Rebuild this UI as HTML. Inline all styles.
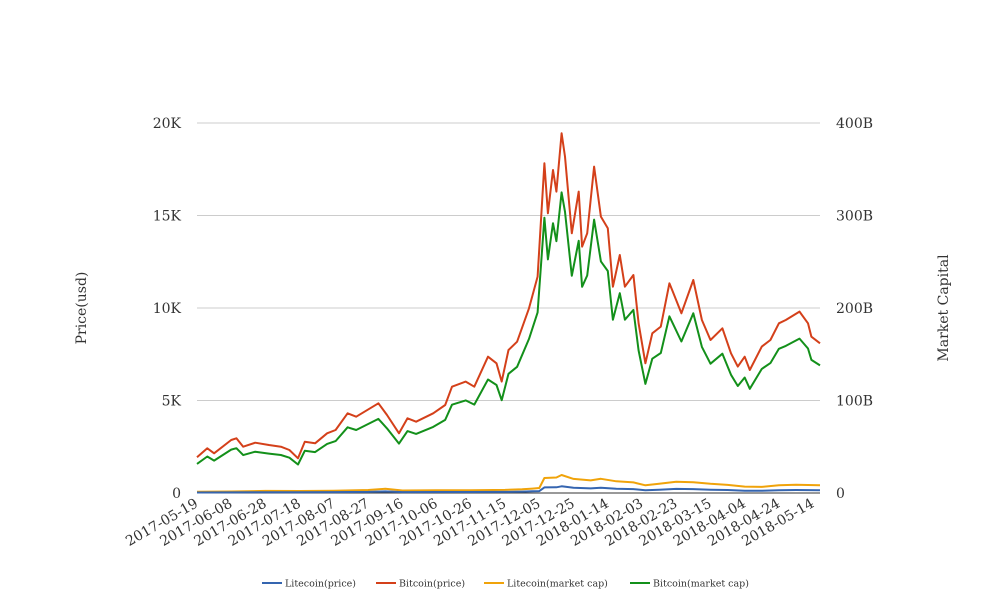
<!DOCTYPE html>
<html><head><meta charset="utf-8">
<style>
html,body{margin:0;padding:0;background:#fff;}
svg{display:block;font-family:"DejaVu Serif","Liberation Serif",serif;}
</style></head>
<body>
<svg id="chart" width="1008" height="616" viewBox="0 0 1008 616">
<g id="grid"></g>
<g id="yleft"></g>
<g id="yright"></g>
<g id="xaxis"></g>
<g id="series"></g>
<text x="86" y="308" transform="rotate(-90 86 308)" text-anchor="middle" font-size="14" fill="#333">Price(usd)</text>
<text x="948" y="308" transform="rotate(-90 948 308)" text-anchor="middle" font-size="14" fill="#333">Market Capital</text>
<g id="legend"></g>
</svg>
<script>
const btcDays=[0,6,10,20,23,27,34,42,49,54,59,63,69,76,81,88,93,106,111,118,123,128,138,145,149,157,162,170,175,178,182,187,194,199,203,205,208,210,213,215,219,223,225,228,232,236,240,243,247,250,255,258,262,266,271,276,278,283,290,295,300,307,312,316,320,323,330,335,340,344,352,357,359,364];
const btcPrice=[1928,2415,2144,2865,2955,2505,2721,2595,2505,2325,1874,2775,2685,3226,3406,4307,4127,4847,4217,3226,4036,3856,4307,4757,5748,6019,5748,7370,7010,6019,7731,8181,9983,11695,17822,15119,17461,16290,19444,18182,14038,16290,13317,14038,17642,14938,14308,11154,12866,11154,11785,9172,7010,8632,8992,11334,10884,9713,11514,9352,8271,8902,7550,6830,7370,6649,7911,8271,9172,9352,9803,9172,8451,8091];
const btcCap=[31.5,39.5,35.0,46.9,48.4,41.0,44.6,42.6,41.1,38.2,30.8,45.6,44.2,53.1,56.1,71.0,68.1,80.1,69.8,53.4,66.9,63.9,71.5,79.0,95.5,100.1,95.6,122.7,116.8,100.3,128.9,136.4,166.6,195.2,297.6,252.5,291.7,272.2,325.0,304.0,234.8,272.6,222.9,235.1,295.6,250.4,240.0,187.2,216.0,187.3,198.0,154.1,117.9,145.2,151.4,191.0,183.4,163.8,194.3,157.9,139.8,150.6,127.8,115.7,124.9,112.7,134.2,140.4,155.9,159.0,166.9,156.2,143.9,137.9];
const ltcDays=[0,20,40,60,80,100,110,120,140,160,180,190,196,200,203,210,213,220,230,236,245,255,262,270,280,290,300,310,320,330,340,350,364];
const ltcPrice=[25,30,45,42,48,60,85,50,55,55,62,75,90,100,300,310,360,280,250,280,230,210,150,180,220,210,180,160,125,120,150,160,150];
const ltcCap=[1.3,1.6,2.3,2.2,2.5,3.2,4.5,2.7,2.9,2.9,3.3,4.0,4.8,5.4,16.2,16.8,19.5,15.2,13.6,15.3,12.6,11.5,8.3,9.9,12.1,11.6,9.9,8.8,6.9,6.6,8.3,8.9,8.3];
const leftTicks=[0,5000,10000,15000,20000];
const leftLabels=["0","5K","10K","15K","20K"];
const rightTicks=[0,100,200,300,400];
const rightLabels=["0","100B","200B","300B","400B"];
const xTickDays=[0,20,40,60,80,100,120,140,160,180,200,220,240,260,280,300,320,340,360];
const xTickLabels=["2017-05-19","2017-06-08","2017-06-28","2017-07-18","2017-08-07","2017-08-27","2017-09-16","2017-10-06","2017-10-26","2017-11-15","2017-12-05","2017-12-25","2018-01-14","2018-02-03","2018-02-23","2018-03-15","2018-04-04","2018-04-24","2018-05-14"];

const NS="http://www.w3.org/2000/svg";
const X0=197,X1=820,Y0=493,Y1=123;
const xs=d=>X0+d*(X1-X0)/364;
const yl=v=>Y0-v*(Y0-Y1)/20000;
const yr=v=>Y0-v*(Y0-Y1)/400;
function mk(tag,attrs,parent){const e=document.createElementNS(NS,tag);for(const k in attrs)e.setAttribute(k,attrs[k]);parent.appendChild(e);return e;}
const grid=document.getElementById('grid');
leftTicks.forEach((t,i)=>{
  const l=mk('line',{x1:X0,x2:X1,y1:yl(t),y2:yl(t),stroke:i===0?'#333':'#ccc','stroke-width':1},grid);
  
  
  const tx=mk('text',{x:181,y:yl(t)+5,'text-anchor':'end','font-size':14,fill:'#333'},document.getElementById('yleft'));
  tx.textContent=leftLabels[i];
  
  
});
rightTicks.forEach((t,i)=>{
  const tx=mk('text',{x:836,y:yr(t)+5,'text-anchor':'start','font-size':14,fill:'#333'},document.getElementById('yright'));
  tx.textContent=rightLabels[i];
  
  
});
xTickDays.forEach((d,i)=>{
  const x=xs(d)+2,y=506;
  const tx=mk('text',{x:x,y:y,'text-anchor':'end','font-size':14,fill:'#333',transform:`rotate(-30 ${x} ${y})`},document.getElementById('xaxis'));
  tx.textContent=xTickLabels[i];
  
  
});
const series=document.getElementById('series');
function line(days,vals,sc,color,name){
  const p=mk('polyline',{points:days.map((d,i)=>xs(d).toFixed(1)+','+sc(vals[i]).toFixed(1)).join(' '),fill:'none',stroke:color,'stroke-width':2,'stroke-linejoin':'round'},series);
  
  
}
line(ltcDays,ltcCap,yr,'#f0a30a','litecoin-market-cap-line');
line(btcDays,btcCap,yr,'#13901a','bitcoin-market-cap-line');
line(btcDays,btcPrice,yl,'#d4401a','bitcoin-price-line');
line(ltcDays,ltcPrice,yl,'#3565b0','litecoin-price-line');
const legendItems=[["Litecoin(price)","#3565b0",262],["Bitcoin(price)","#d4401a",376],["Litecoin(market cap)","#f0a30a",484],["Bitcoin(market cap)","#13901a",630]];
const lg=document.getElementById('legend');
legendItems.forEach(it=>{
  const g=mk('g',{},lg);
  
  
  mk('line',{x1:it[2],x2:it[2]+20,y1:583,y2:583,stroke:it[1],'stroke-width':2},g);
  const t=mk('text',{x:it[2]+23,y:586.5,'font-size':9.5,fill:'#333'},g);
  t.textContent=it[0];
});
</script>
</body></html>
